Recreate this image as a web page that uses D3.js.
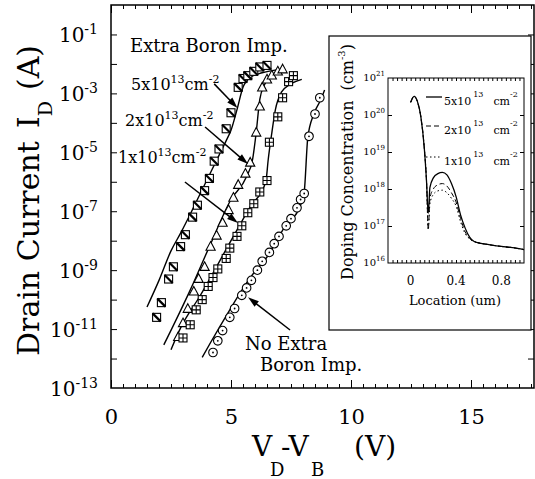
<!DOCTYPE html>
<html>
<head>
<meta charset="utf-8">
<script src="https://cdnjs.cloudflare.com/ajax/libs/d3/7.8.5/d3.min.js"></script>
<style>
body { margin: 0; background: #fff; }
svg text { font-family: "DejaVu Serif", serif; fill: #000; }
.tk line { stroke: #000; stroke-width: 1; }
</style>
</head>
<body>
<div id="chart"></div>
<script>
// ---- main plot: measured points (V_D - V_B in volts, I_D in amps) ----
var vBoron5 = [1.9, 2.1, 2.4, 2.6, 2.9, 3.1, 3.4, 3.6, 3.9, 4.1, 4.3, 4.5, 4.8, 5.0, 5.3, 5.5, 5.7, 5.95, 6.2, 6.5];
var iBoron5 = [2.5e-11, 7.9e-11, 5.0e-10, 1.3e-9, 6.3e-9, 1.6e-8, 6.3e-8, 1.6e-7, 5.0e-7, 1.3e-6, 5.0e-6, 1.3e-5, 6.3e-5, 2.2e-4, 1.6e-3, 3.2e-3, 4.0e-3, 5.6e-3, 7.9e-3, 8.9e-3];

var vBoron2 = [2.8, 3.0, 3.2, 3.45, 3.65, 3.9, 4.15, 4.4, 4.65, 4.9, 5.1, 5.3, 5.6, 5.8, 6.05, 6.2, 6.3, 6.5, 6.7, 6.95, 7.15];
var iBoron2 = [5.4e-12, 1.6e-11, 4.9e-11, 1.9e-10, 5.1e-10, 1.3e-9, 6.3e-9, 1.5e-8, 4.1e-8, 1.1e-7, 2.9e-7, 7.9e-7, 1.9e-6, 4.5e-6, 4.7e-5, 3.6e-4, 1.6e-3, 3.0e-3, 4.1e-3, 5.6e-3, 6.6e-3];

var vBoron1 = [3.0, 3.3, 3.55, 3.8, 4.05, 4.25, 4.45, 4.8, 4.95, 5.25, 5.45, 5.7, 5.95, 6.2, 6.5, 6.6, 6.95, 7.15, 7.4, 7.6];
var iBoron1 = [5.0e-12, 1.4e-11, 4.5e-11, 1.0e-10, 2.8e-10, 5.6e-10, 1.1e-9, 2.5e-9, 5.6e-9, 1.4e-8, 3.2e-8, 8.9e-8, 1.8e-7, 4.5e-7, 1.1e-6, 2.2e-5, 1.6e-4, 7.1e-4, 2.5e-3, 4.0e-3];

var vNoBoron = [4.25, 4.45, 4.65, 4.95, 5.15, 5.45, 5.65, 5.85, 6.1, 6.3, 6.6, 6.8, 7.0, 7.3, 7.5, 7.75, 7.9, 8.05, 8.25, 8.5, 8.7];
var iNoBoron = [1.6e-12, 4.0e-12, 8.9e-12, 2.5e-11, 5.0e-11, 1.4e-10, 2.5e-10, 4.5e-10, 1.0e-9, 2.0e-9, 4.0e-9, 7.9e-9, 1.4e-8, 3.2e-8, 5.6e-8, 1.3e-7, 2.5e-7, 4.0e-7, 3.5e-5, 2.0e-4, 7.1e-4];

// ---- main plot: simulated curves ----
var vSim5 = [1.5, 2.0, 2.5, 2.9, 3.3, 3.6, 3.9, 4.2, 4.5, 4.8, 5.0, 5.25, 5.5, 5.8, 6.3, 6.9];
var iSim5 = [5.6e-11, 4.5e-10, 4.5e-9, 1.8e-8, 7.9e-8, 2.5e-7, 7.9e-7, 2.5e-6, 7.9e-6, 2.5e-5, 5.6e-5, 2.8e-4, 1.6e-3, 3.5e-3, 5.0e-3, 6.3e-3];

var vSim2 = [2.2, 2.55, 3.3, 4.1, 5.0, 5.65, 5.9, 6.05, 6.2, 6.4, 6.75, 7.1];
var iSim2 = [2.9e-12, 1.1e-11, 2.1e-10, 6.3e-9, 2.5e-7, 1.5e-6, 5.8e-6, 4.7e-5, 6.3e-4, 2.0e-3, 4.5e-3, 6.0e-3];

var vSim1 = [2.5, 2.9, 3.7, 5.1, 5.8, 6.45, 6.55, 6.7, 6.85, 7.1, 7.45, 7.95];
var iSim1 = [2.0e-12, 1.1e-11, 1.3e-10, 1.4e-8, 1.4e-7, 1.0e-6, 5.6e-6, 4.5e-5, 2.8e-4, 1.1e-3, 2.0e-3, 3.0e-3];

var vSimNo = [3.8, 4.15, 4.95, 5.4, 5.9, 6.5, 7.3, 7.85, 8.05, 8.2, 8.45, 8.75, 8.9];
var iSimNo = [1.1e-12, 3.5e-12, 4.5e-11, 1.8e-10, 7.1e-10, 2.8e-9, 3.5e-8, 1.3e-7, 4.5e-7, 3.2e-5, 2.0e-4, 6.3e-4, 1.3e-3];

// axis ticks
var xTickLabels = [0, 5, 10, 15];
var yTickExps = [-1, -3, -5, -7, -9, -11, -13];

// ---- inset: doping profile (location um, concentration cm^-3) ----
var insetLoc = [0.0, 0.03, 0.06, 0.09, 0.12, 0.14, 0.155, 0.17, 0.2, 0.24, 0.28, 0.32, 0.36, 0.4, 0.44, 0.48, 0.52, 0.56, 0.62, 0.7, 0.8, 0.9, 1.0];
var doping5 = [2.2e20, 3.2e20, 2.3e20, 8.9e19, 1.3e19, 1.6e18, 2.2e17, 1.1e18, 2.0e18, 2.6e18, 2.8e18, 2.4e18, 1.4e18, 6.3e17, 2.0e17, 8.9e16, 5.0e16, 3.8e16, 3.4e16, 3.1e16, 2.8e16, 2.6e16, 2.3e16];
var doping2 = [2.2e20, 3.2e20, 2.3e20, 8.9e19, 1.3e19, 1.6e18, 7.9e16, 5.6e17, 1.0e18, 1.3e18, 1.4e18, 1.2e18, 7.9e17, 4.5e17, 1.6e17, 7.1e16, 4.6e16, 3.8e16, 3.4e16, 3.1e16, 2.8e16, 2.6e16, 2.3e16];
var doping1 = [2.2e20, 3.2e20, 2.3e20, 8.9e19, 1.3e19, 1.6e18, 7.9e16, 4.0e17, 7.1e17, 8.9e17, 9.3e17, 7.9e17, 5.6e17, 3.5e17, 1.3e17, 6.3e16, 4.5e16, 3.8e16, 3.4e16, 3.1e16, 2.8e16, 2.6e16, 2.3e16];
var insetLegend = ["5x10", "2x10", "1x10"];
var insetDash = [null, "5,3", "1.5,2.5"];
var insetXLabels = [0, 0.4, 0.8];
var insetYExps = [16, 17, 18, 19, 20, 21];

function zip(a, b) { return a.map(function(d, i) { return [d, b[i]]; }); }

var svg = d3.select("#chart").append("svg")
    .attr("width", 535).attr("height", 479);

var x = d3.scaleLinear().domain([0, 17.625]).range([111, 534]);
var y = d3.scaleLog().domain([1e-13, 1]).range([388, 5]);

// frame
svg.append("rect")
    .attr("x", x(0)).attr("y", y(1))
    .attr("width", x(17.625) - x(0)).attr("height", y(1e-13) - y(1))
    .attr("fill", "none").attr("stroke", "#000").attr("stroke-width", 1.5);

// ticks (inward)
var minorX = d3.range(0, 17.6, 0.5).filter(function(d) { return d % 5 !== 0; });
var decades = d3.range(-12, 0).map(function(e) { return Math.pow(10, e); });

function tickAxis(axis, tr) {
    var g = svg.append("g").attr("class", "tk").attr("transform", tr).call(axis);
    g.select(".domain").remove();
    return g;
}
tickAxis(d3.axisBottom(x).tickValues(minorX).tickSize(-4).tickFormat(""), "translate(0," + y(1e-13) + ")");
tickAxis(d3.axisTop(x).tickValues(minorX).tickSize(-4).tickFormat(""), "translate(0," + y(1) + ")");
tickAxis(d3.axisTop(x).tickValues(xTickLabels).tickSize(-8).tickFormat(""), "translate(0," + y(1) + ")");
tickAxis(d3.axisLeft(y).tickValues(decades).tickSize(-6).tickFormat(""), "translate(" + x(0) + ",0)");
tickAxis(d3.axisRight(y).tickValues(decades).tickSize(-6).tickFormat(""), "translate(" + x(17.625) + ",0)");

var xAx = tickAxis(d3.axisBottom(x).tickValues(xTickLabels).tickSize(-8).tickPadding(21), "translate(0," + y(1e-13) + ")");
xAx.selectAll("text").attr("font-size", "21px").attr("font-family", "DejaVu Serif");

// y tick labels with superscript exponents
var yLab = svg.append("g").selectAll("text")
    .data(yTickExps).enter().append("text")
    .attr("x", 98)
    .attr("y", function(d) { return y(Math.pow(10, d)) + 8; })
    .attr("text-anchor", "end")
    .attr("font-size", "20px");
yLab.append("tspan").text("10");
yLab.append("tspan").attr("font-size", "14px").attr("dy", -8).text(function(d) { return d; });

// axis titles
var yTitle = svg.append("text")
    .attr("transform", "translate(39,356) rotate(-90)")
    .attr("font-size", "30px");
yTitle.append("tspan").text("Drain Current");
yTitle.append("tspan").attr("dx", 13).text("I");
yTitle.append("tspan").attr("font-size", "19px").attr("dy", 13).text("D");
yTitle.append("tspan").attr("dx", 11).attr("dy", -13).text("(A)");

var xTitle = svg.append("text").attr("y", 456).attr("font-size", "28px");
xTitle.append("tspan").attr("x", 252).text("V");
xTitle.append("tspan").attr("x", 270).attr("dy", 20).attr("font-size", "18px").text("D");
xTitle.append("tspan").attr("x", 281).attr("dy", -20).text("-V");
xTitle.append("tspan").attr("x", 311).attr("dy", 20).attr("font-size", "18px").text("B");
xTitle.append("tspan").attr("x", 354).attr("dy", -20).text("(V)");

// simulated curves
var line = d3.line()
    .x(function(d) { return x(d[0]); })
    .y(function(d) { return y(d[1]); })
    .curve(d3.curveMonotoneX);

[zip(vSim5, iSim5), zip(vSim2, iSim2), zip(vSim1, iSim1), zip(vSimNo, iSimNo)].forEach(function(s) {
    svg.append("path").datum(s)
        .attr("d", line)
        .attr("fill", "none").attr("stroke", "#000").attr("stroke-width", 1.4);
});

// measured markers
var mk = svg.append("g").attr("fill", "#fff").attr("stroke", "#000").attr("stroke-width", 1.1);

function place(sel) {
    return sel.attr("transform", function(d) { return "translate(" + x(d[0]) + "," + y(d[1]) + ")"; });
}

var sq5 = place(mk.selectAll("g.s5").data(zip(vBoron5, iBoron5)).enter().append("g").attr("class", "s5"));
sq5.append("rect").attr("x", -4).attr("y", -4).attr("width", 8).attr("height", 8);
sq5.append("line").attr("x1", -4).attr("y1", -4).attr("x2", 4).attr("y2", 4).attr("stroke-width", 2.2);

var tr2 = place(mk.selectAll("g.s2").data(zip(vBoron2, iBoron2)).enter().append("g").attr("class", "s2"));
tr2.append("path").attr("d", "M0,-5L4.6,3.6L-4.6,3.6Z");

var sq1 = place(mk.selectAll("g.s1").data(zip(vBoron1, iBoron1)).enter().append("g").attr("class", "s1"));
sq1.append("rect").attr("x", -4).attr("y", -4).attr("width", 8).attr("height", 8);
sq1.append("path").attr("d", "M-4,0H4M0,-4V4");

var ci = place(mk.selectAll("g.s0").data(zip(vNoBoron, iNoBoron)).enter().append("g").attr("class", "s0"));
ci.append("circle").attr("r", 4.3);
ci.append("circle").attr("r", 0.9).attr("fill", "#000").attr("stroke", "none");

// annotations
function arrow(v0, i0, v1, i1) {
    var x0 = x(v0), y0 = y(i0), x1 = x(v1), y1 = y(i1);
    var a = Math.atan2(y1 - y0, x1 - x0);
    svg.append("line").attr("x1", x0).attr("y1", y0)
        .attr("x2", x1 - 6 * Math.cos(a)).attr("y2", y1 - 6 * Math.sin(a))
        .attr("stroke", "#000").attr("stroke-width", 1.5);
    var p = [[x1, y1],
        [x1 - 11 * Math.cos(a) + 3.5 * Math.sin(a), y1 - 11 * Math.sin(a) - 3.5 * Math.cos(a)],
        [x1 - 11 * Math.cos(a) - 3.5 * Math.sin(a), y1 - 11 * Math.sin(a) + 3.5 * Math.cos(a)]];
    svg.append("path").attr("d", "M" + p.join("L") + "Z").attr("fill", "#000");
}
arrow(4.3, 2.1e-3, 5.27, 3.2e-4);
arrow(3.92, 7.2e-5, 5.71, 4.0e-6);
arrow(3.08, 9.8e-7, 5.29, 4.0e-8);
arrow(7.46, 9.3e-12, 5.71, 1.2e-10);

svg.append("text").attr("x", 130).attr("y", 52).attr("font-size", "18px").text("Extra Boron Imp.");
svg.append("text").attr("x", 245).attr("y", 350).attr("font-size", "18px").text("No Extra");
svg.append("text").attr("x", 260).attr("y", 371).attr("font-size", "18px").text("Boron Imp.");

var doseLab = svg.append("g").selectAll("text")
    .data([["5x10", 131, 90], ["2x10", 125, 126], ["1x10", 118, 163]]).enter().append("text")
    .attr("x", function(d) { return d[1]; })
    .attr("y", function(d) { return d[2]; })
    .attr("font-size", "16px");
doseLab.append("tspan").text(function(d) { return d[0]; });
doseLab.append("tspan").attr("font-size", "11px").attr("dy", -7).text("13");
doseLab.append("tspan").attr("dy", 7).text("cm");
doseLab.append("tspan").attr("font-size", "11px").attr("dy", -7).text("-2");

// ---- inset ----
var inset = svg.append("g");
inset.append("rect").attr("x", 329).attr("y", 36).attr("width", 202).attr("height", 294)
    .attr("fill", "#fff").attr("stroke", "#000").attr("stroke-width", 1.2);

var ix = d3.scaleLinear().domain([-0.2, 1.0]).range([388, 524]);
var iy = d3.scaleLog().domain([1e16, 1e21]).range([263, 78]);

inset.append("rect").attr("x", ix(-0.2)).attr("y", iy(1e21))
    .attr("width", ix(1.0) - ix(-0.2)).attr("height", iy(1e16) - iy(1e21))
    .attr("fill", "none").attr("stroke", "#000").attr("stroke-width", 1);

function insetTicks(axis, tr) {
    var g = inset.append("g").attr("class", "tk").attr("transform", tr).call(axis);
    g.select(".domain").remove();
    g.selectAll("line").attr("stroke-width", 0.8);
    return g;
}
var insetMinor = d3.range(-0.16, 0.99, 0.04);
var insetDec = [1e17, 1e18, 1e19, 1e20];
insetTicks(d3.axisBottom(ix).tickValues(insetMinor).tickSize(-3).tickFormat(""), "translate(0," + iy(1e16) + ")");
insetTicks(d3.axisTop(ix).tickValues(insetMinor).tickSize(-3).tickFormat(""), "translate(0," + iy(1e21) + ")");
insetTicks(d3.axisLeft(iy).tickValues(insetDec).tickSize(-4).tickFormat(""), "translate(" + ix(-0.2) + ",0)");
insetTicks(d3.axisRight(iy).tickValues(insetDec).tickSize(-4).tickFormat(""), "translate(" + ix(1.0) + ",0)");

inset.append("g").selectAll("text").data(insetXLabels).enter().append("text")
    .attr("x", function(d) { return ix(d); }).attr("y", 285)
    .attr("text-anchor", "middle").attr("font-size", "12px")
    .text(function(d) { return d; });

var iyLab = inset.append("g").selectAll("text").data(insetYExps).enter().append("text")
    .attr("x", 385).attr("y", function(d) { return iy(Math.pow(10, d)) + 3; })
    .attr("text-anchor", "end").attr("font-size", "10px");
iyLab.append("tspan").text("10");
iyLab.append("tspan").attr("font-size", "7px").attr("dy", -5).text(function(d) { return d; });

inset.append("text").attr("x", 455).attr("y", 305).attr("text-anchor", "middle")
    .attr("font-size", "13px").text("Location  (um)");

var iyTitle = inset.append("text")
    .attr("transform", "translate(353,162) rotate(-90)")
    .attr("text-anchor", "middle").attr("font-size", "16px");
iyTitle.append("tspan").text("Doping Concentration");
iyTitle.append("tspan").attr("dx", 10).text("(cm");
iyTitle.append("tspan").attr("font-size", "10px").attr("dy", -8).text("-3");
iyTitle.append("tspan").attr("dy", 8).text(")");

var iline = d3.line()
    .x(function(d) { return ix(d[0]); })
    .y(function(d) { return iy(d[1]); })
    .curve(d3.curveMonotoneX);

[doping5, doping2, doping1].forEach(function(s, k) {
    inset.append("path").datum(zip(insetLoc, s))
        .attr("d", iline)
        .attr("fill", "none").attr("stroke", "#000").attr("stroke-width", k === 0 ? 1.3 : 1)
        .attr("stroke-dasharray", insetDash[k]);
});

// inset legend
var leg = inset.append("g").selectAll("g").data(insetLegend).enter().append("g")
    .attr("transform", function(d, i) { return "translate(426," + [97, 126, 157][i] + ")"; });
leg.append("line").attr("x1", 0).attr("x2", 16)
    .attr("stroke", "#000").attr("stroke-width", function(d, i) { return i === 0 ? 1.3 : 1; })
    .attr("stroke-dasharray", function(d, i) { return insetDash[i]; });
var legText = leg.append("text").attr("x", 18).attr("y", 8).attr("font-size", "11px");
legText.append("tspan").text(function(d) { return d; });
legText.append("tspan").attr("font-size", "8px").attr("dx", 2).attr("dy", -8).text("13");
legText.append("tspan").attr("dx", 10).attr("dy", 8).text("cm");
legText.append("tspan").attr("font-size", "8px").attr("dy", -8).text("-2");
</script>
</body>
</html>
